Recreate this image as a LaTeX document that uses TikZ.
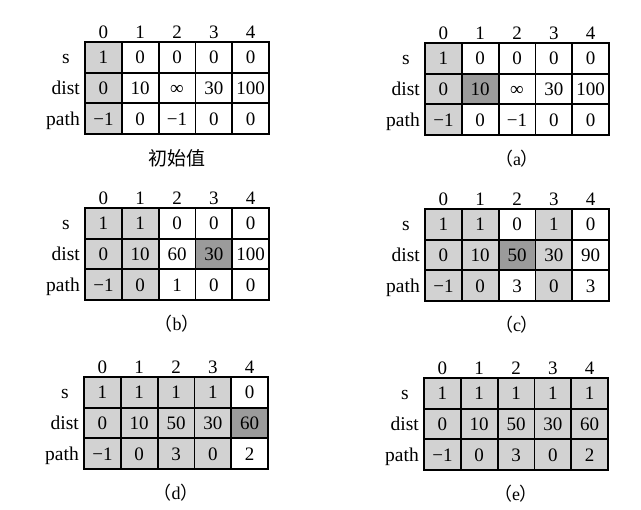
\documentclass[tikz,border=0pt]{standalone}
\usepackage{fontspec}
\setmainfont{Liberation Serif}
\newfontfamily\cjk{Noto Sans CJK SC}
\definecolor{lightg}{RGB}{210,210,210}
\definecolor{darkg}{RGB}{155,155,155}
\tikzset{
  txt/.style={font=\fontsize{19}{22}\selectfont, inner sep=0pt, text height=13pt, text depth=0pt},
  cell/.style={txt, draw, line width=1.8pt, minimum width=36.8pt, minimum height=30.7pt},
  lt/.style={fill=lightg}, wt/.style={fill=white}, dk/.style={fill=darkg},
  collab/.style={txt},
  rowlab/.style={txt, font=\fontsize{19.5}{22}\selectfont, anchor=east},
  slab/.style={txt, font=\fontsize{19.5}{22}\selectfont},
  caplab/.style={font=\fontsize{18}{21}\selectfont, inner sep=0pt}
}
% #1 name, #2 left x, #3 top y (down positive), #4 caption, #5 s row, #6 dist row, #7 path row
\newcommand{\dtab}[7]{%
  \foreach \lab [count=\c from 0] in {0,1,2,3,4}{%
    \node[collab] (#1-h\c) at ({#2+(\c+0.5)*36.8},{-(#3)+10}) {\lab};}
  \foreach \v/\f [count=\c from 0] in {#5}{%
    \node[cell,\f] (#1-s\c) at ({#2+(\c+0.5)*36.8},{-(#3)-15.35}) {\v};}
  \foreach \v/\f [count=\c from 0] in {#6}{%
    \node[cell,\f] (#1-d\c) at ({#2+(\c+0.5)*36.8},{-(#3)-46.05}) {\v};}
  \foreach \v/\f [count=\c from 0] in {#7}{%
    \node[cell,\f] (#1-p\c) at ({#2+(\c+0.5)*36.8},{-(#3)-76.75}) {\v};}
  \node[slab] (#1-ls) at ({#2-19},{-(#3)-15.35}) {s};
  \node[rowlab] (#1-ld) at ({#2-5},{-(#3)-46.05}) {dist};
  \node[rowlab] (#1-lp) at ({#2-5},{-(#3)-76.75}) {path};
  \node[caplab] (#1-cap) at ({#2+92},{-(#3)-116}) {#4};
}
\begin{document}
\begin{tikzpicture}[x=1pt,y=1pt]
\useasboundingbox[fill=white] (0,0) rectangle (641,-510);
\dtab{t0}{85}{42}{{\cjk\fontsize{19}{21}\selectfont 初始值}}
  {1/lt,0/wt,0/wt,0/wt,0/wt}
  {0/lt,10/wt,∞/wt,30/wt,100/wt}
  {−1/lt,0/wt,−1/wt,0/wt,0/wt}
\dtab{ta}{425}{43}{{\cjk （}a{\cjk ）}}
  {1/lt,0/wt,0/wt,0/wt,0/wt}
  {0/lt,10/dk,∞/wt,30/wt,100/wt}
  {−1/lt,0/wt,−1/wt,0/wt,0/wt}
\dtab{tb}{85}{208}{{\cjk （}b{\cjk ）}}
  {1/lt,1/lt,0/wt,0/wt,0/wt}
  {0/lt,10/lt,60/wt,30/dk,100/wt}
  {−1/lt,0/lt,1/wt,0/wt,0/wt}
\dtab{tc}{425}{209}{{\cjk （}c{\cjk ）}}
  {1/lt,1/lt,0/wt,1/lt,0/wt}
  {0/lt,10/lt,50/dk,30/lt,90/wt}
  {−1/lt,0/lt,3/wt,0/lt,3/wt}
\dtab{td}{84}{377}{{\cjk （}d{\cjk ）}}
  {1/lt,1/lt,1/lt,1/lt,0/wt}
  {0/lt,10/lt,50/lt,30/lt,60/dk}
  {−1/lt,0/lt,3/lt,0/lt,2/wt}
\dtab{te}{424}{378}{{\cjk （}e{\cjk ）}}
  {1/lt,1/lt,1/lt,1/lt,1/lt}
  {0/lt,10/lt,50/lt,30/lt,60/lt}
  {−1/lt,0/lt,3/lt,0/lt,2/lt}
\end{tikzpicture}
\end{document}
